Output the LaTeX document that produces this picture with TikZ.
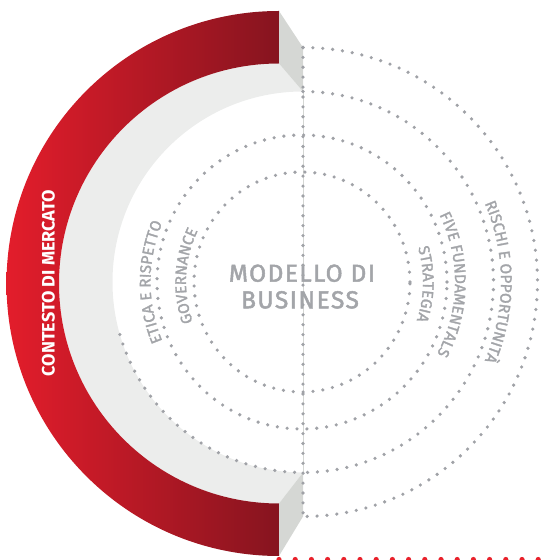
\documentclass[tikz,border=0pt]{standalone}
\usepackage{fontspec}
\setsansfont{Fira Sans}
\newfontfamily\firaLS{Fira Sans}[LetterSpace=6,FakeBold=2]
\newfontfamily\firaFB{Fira Sans}[FakeBold=1.8]
\usetikzlibrary{decorations.text}
\definecolor{redL}{HTML}{E31D2B}
\definecolor{redR}{HTML}{86141F}
\definecolor{facegray}{HTML}{ECEDEC}
\definecolor{capgray}{HTML}{D5D7D4}
\definecolor{dotgray}{HTML}{A0A2A7}
\definecolor{txtgray}{HTML}{A3A5A9}
\definecolor{reddot}{HTML}{E8212B}
\newcommand{\gfmt}{\firaFB\fontsize{15.5}{15.5}\selectfont\color{txtgray}}
\begin{document}
\begin{tikzpicture}[x=1pt,y=1pt,
  gdots/.style={draw=dotgray,line width=3.6pt,line cap=round,dash pattern=on 0pt off 9.9pt},
  rdots/.style={draw=reddot,line width=5.2pt,line cap=round,dash pattern=on 0pt off 16.2pt},
  bigtext/.style={font=\firaLS\fontsize{24.5}{24.5}\selectfont,text=txtgray,anchor=base,inner sep=0pt},
  arctext/.style={decorate,decoration={text along path,text align=center,text={|\gfmt|#1}}}]
\useasboundingbox (0,0) rectangle (541,560);
\coordinate (F) at (279,276.5);
\coordinate (O) at (303,278);
\coordinate (Oc) at (302,278);
% inner cylinder face
\fill[facegray] (279,496.5) arc[start angle=90,end angle=270,radius=220] -- (303,87.5)
  arc[start angle=270,end angle=90,radius=190.5] -- cycle;
% red front face
\shade[left color=redL,right color=redR] (279,549) arc[start angle=90,end angle=270,radius=272.5]
  -- (279,56.5) arc[start angle=270,end angle=90,radius=220] -- cycle;
% end caps
\fill[capgray] (279,549) -- (303,512.5) -- (303,468.5) -- (279,496.5) -- cycle;
\fill[capgray] (279,56.5) -- (303,87.5) -- (303,43.5) -- (279,4) -- cycle;
\draw[capgray,line width=0.8pt] (303,468.5) -- (303,87.5);
% dotted rings
\draw[gdots] (303,512.5) arc[start angle=90,end angle=-90,radius=234.5];
\draw[gdots] (303,468.5) arc[start angle=90,end angle=-90,radius=190.5];
\draw[gdots] (O) ++(196:190.5) arc[start angle=196,end angle=270,radius=190.5];
\draw[gdots] (Oc) ellipse[x radius=145,y radius=147];
\draw[gdots] (Oc) ellipse[x radius=108,y radius=110];
\draw[gdots] (303,512.5) -- (303,43.5);
% red dotted line
\draw[rdots] (279,0.5) -- (545,0.5);
% texts
\node[bigtext] (m1) at (302,278.3) {MODELLO DI};
\node[bigtext] (m2) at (300,251.7) {BUSINESS};
\node[rotate=90,text=white,inner sep=0pt,font=\sffamily\bfseries\fontsize{18}{18}\selectfont] (ctx) at (48.5,277) {CONTESTO DI MERCATO};
\path[arctext={ETICA E RISPETTO}] (O) ++(220:152.5) arc[start angle=220,end angle=140,radius=152.5];
\path[arctext={GOVERNANCE}] (O) ++(217:117) arc[start angle=217,end angle=137,radius=117];
\path[arctext={STRATEGIA}] (O) ++(34:120) arc[start angle=34,end angle=-36,radius=120];
\path[arctext={FIVE FUNDAMENTALS}] (O) ++(39:152) arc[start angle=39,end angle=-41,radius=152];
\path[arctext={RISCHI E OPPORTUNITÀ}] (O) ++(30:198) arc[start angle=30,end angle=-30,radius=198];
\end{tikzpicture}
\end{document}
